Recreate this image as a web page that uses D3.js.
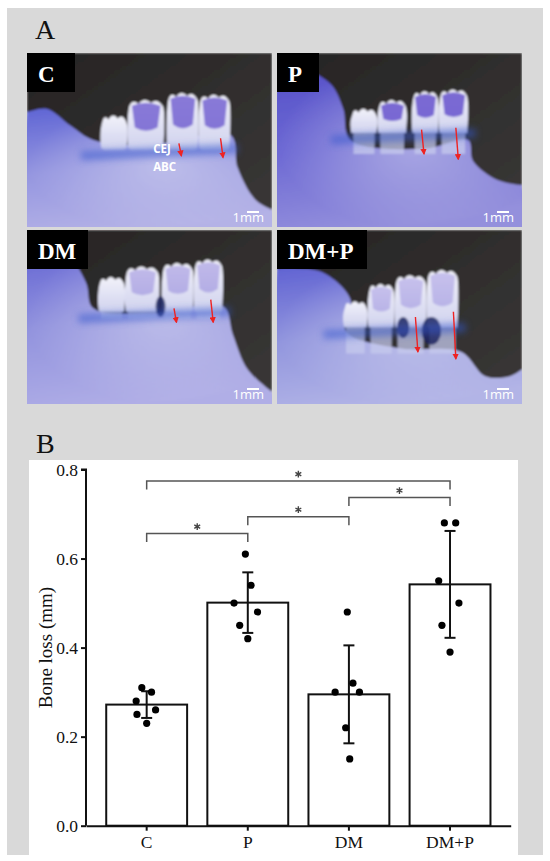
<!DOCTYPE html>
<html>
<head>
<meta charset="utf-8">
<script src="https://cdnjs.cloudflare.com/ajax/libs/d3/7.8.5/d3.min.js"></script>
<style>
  html, body { margin: 0; padding: 0; background: #fff; }
  svg { display: block; }
</style>
</head>
<body>
<div id="figure"></div>
<script>
// ---- panel B data (bone loss, mm) ----
const groups = ['C', 'P', 'DM', 'DM+P'];
const means = [0.272, 0.501, 0.295, 0.542];
const sds = [0.030, 0.068, 0.110, 0.120];
const pointsC = [0.31, 0.30, 0.28, 0.25, 0.26, 0.23];
const pointsP = [0.61, 0.54, 0.50, 0.48, 0.45, 0.42];
const pointsDM = [0.48, 0.32, 0.30, 0.30, 0.22, 0.15];
const pointsDMP = [0.68, 0.68, 0.55, 0.50, 0.45, 0.39];
// horizontal spread of the dots, as a share of the bar width
const jitterC = [-0.06, 0.06, -0.13, -0.12, 0.11, 0];
const jitterP = [-0.03, 0.04, -0.17, 0.12, -0.10, 0];
const jitterDM = [-0.02, 0.05, -0.17, 0.13, -0.04, 0.01];
const jitterDMP = [-0.07, 0.07, -0.14, 0.11, -0.10, 0];
const yTicks = [0.0, 0.2, 0.4, 0.6, 0.8];
const sigPairs = [['C', 'P'], ['P', 'DM'], ['DM', 'DM+P'], ['C', 'DM+P']];
const sigLevels = [0.656, 0.694, 0.737, 0.774];

const W = 550, H = 861;
const serif = '"Liberation Serif", "Times New Roman", serif';
const sans = '"Open Sans", "DejaVu Sans", sans-serif';

const svg = d3.select('#figure').append('svg')
    .attr('width', W)
    .attr('height', H);

const defs = svg.append('defs');

// grey frame around both panels
svg.append('rect')
    .attr('x', 7).attr('y', 8)
    .attr('width', 536).attr('height', 847)
    .attr('fill', '#d9d9d9');

svg.append('text')
    .attr('x', 35).attr('y', 39)
    .attr('font-family', serif).attr('font-size', 28)
    .attr('fill', '#111')
    .text('A');

// ---------- panel A: stylised photographs ----------
const photoW = 245, photoH = 174;
const photos = [
    { label: 'C', x: 27, y: 53, box: 48,
      colors: ['#5e64d4', '#9596e0', '#b4b2e6'], stain: 0.75,
      jaw: [[0, 0.34], [0.08, 0.32], [0.18, 0.42], [0.27, 0.5], [0.5, 0.53], [0.83, 0.47], [0.86, 0.66], [0.93, 0.84], [1, 0.9]],
      teeth: [[0.30, 0.41, 0.37], [0.41, 0.56, 0.28], [0.57, 0.70, 0.24], [0.70, 0.83, 0.25]],
      gum: 0.55, root: 0.55, holes: [],
      arrows: [[0.63, 0.52, 0.59], [0.80, 0.49, 0.6]], notes: true },
    { label: 'P', x: 277, y: 53, box: 42,
      colors: ['#5550c8', '#6e6ad4', '#9490dc'], stain: 0.85,
      jaw: [[0, 0.12], [0.12, 0.1], [0.22, 0.18], [0.27, 0.32], [0.3, 0.5], [0.6, 0.55], [0.78, 0.5], [0.8, 0.62], [0.9, 0.73], [1, 0.76]],
      teeth: [[0.30, 0.41, 0.33], [0.41, 0.53, 0.28], [0.55, 0.66, 0.23], [0.66, 0.78, 0.22]],
      gum: 0.46, root: 0.57, holes: [],
      arrows: [[0.60, 0.44, 0.58], [0.74, 0.43, 0.61]], notes: false },
    { label: 'DM', x: 27, y: 230, box: 61,
      colors: ['#5f60d2', '#9293de', '#b0aee6'], stain: 0.35,
      jaw: [[0, 0.06], [0.14, 0.1], [0.24, 0.3], [0.27, 0.45], [0.5, 0.48], [0.8, 0.44], [0.84, 0.6], [0.9, 0.8], [1, 0.93]],
      teeth: [[0.29, 0.40, 0.28], [0.40, 0.54, 0.22], [0.55, 0.68, 0.2], [0.68, 0.80, 0.18]],
      gum: 0.47, root: 0.5, holes: [[0.525, 0.565, 0.38, 0.5]],
      arrows: [[0.61, 0.45, 0.53], [0.76, 0.4, 0.53]], notes: false },
    { label: 'DM+P', x: 277, y: 230, box: 90,
      colors: ['#6062d2', '#9296de', '#b2b4e6'], stain: 0.3,
      jaw: [[0, 0.22], [0.18, 0.24], [0.3, 0.4], [0.28, 0.58], [0.5, 0.68], [0.75, 0.7], [0.85, 0.84], [0.95, 0.84], [1, 0.8]],
      teeth: [[0.27, 0.37, 0.42], [0.37, 0.48, 0.32], [0.48, 0.61, 0.27], [0.61, 0.74, 0.24]],
      gum: 0.56, root: 0.7, holes: [[0.49, 0.54, 0.5, 0.62], [0.59, 0.67, 0.5, 0.66]],
      arrows: [[0.575, 0.5, 0.7], [0.73, 0.47, 0.74]], notes: false }
];

const u = d3.scaleLinear().domain([0, 1]).range([0, photoW]);
const v = d3.scaleLinear().domain([0, 1]).range([0, photoH]);

const bgGrad = defs.append('linearGradient').attr('id', 'bgGrad')
    .attr('x1', 0).attr('y1', 0).attr('x2', 1).attr('y2', 1);
bgGrad.append('stop').attr('offset', '0%').attr('stop-color', '#262424');
bgGrad.append('stop').attr('offset', '100%').attr('stop-color', '#3a3837');

const glow = defs.append('radialGradient').attr('id', 'glow')
    .attr('cx', 0.55).attr('cy', 0.45).attr('r', 0.5);
glow.append('stop').attr('offset', '0%').attr('stop-color', '#e0e0f2').attr('stop-opacity', 0.5);
glow.append('stop').attr('offset', '100%').attr('stop-color', '#e0e0f2').attr('stop-opacity', 0);

const toothGrad = defs.append('linearGradient').attr('id', 'toothGrad')
    .attr('x1', 0).attr('y1', 0).attr('x2', 0).attr('y2', 1);
toothGrad.append('stop').attr('offset', '0%').attr('stop-color', '#f2f2fa');
toothGrad.append('stop').attr('offset', '100%').attr('stop-color', '#d0d2ee');

defs.append('filter').attr('id', 'soft')
    .append('feGaussianBlur').attr('stdDeviation', 1.3);
defs.append('filter').attr('id', 'softer')
    .attr('filterUnits', 'userSpaceOnUse')
    .attr('x', -20).attr('y', -20).attr('width', photoW + 40).attr('height', photoH + 40)
    .append('feGaussianBlur').attr('stdDeviation', 3.5);

defs.append('marker')
    .attr('id', 'redHead')
    .attr('viewBox', '0 0 10 10')
    .attr('refX', 8).attr('refY', 5)
    .attr('markerWidth', 4.5).attr('markerHeight', 4.5)
    .attr('orient', 'auto')
    .append('polygon')
    .attr('points', '0,0 10,5 0,10')
    .attr('fill', '#ee2222');

const jawLine = d3.line()
    .x(d => u(d[0]))
    .y(d => v(d[1]))
    .curve(d3.curveCatmullRom);

photos.forEach((p, i) => {
    defs.append('clipPath').attr('id', 'clip' + i)
        .append('rect').attr('width', photoW).attr('height', photoH);

    const jg = defs.append('linearGradient').attr('id', 'jaw' + i)
        .attr('x1', 0).attr('y1', 0).attr('x2', 0.25).attr('y2', 1);
    jg.append('stop').attr('offset', '0%').attr('stop-color', p.colors[0]);
    jg.append('stop').attr('offset', '50%').attr('stop-color', p.colors[1]);
    jg.append('stop').attr('offset', '100%').attr('stop-color', p.colors[2]);

    const g = svg.append('g')
        .attr('transform', `translate(${p.x},${p.y})`);
    const body = g.append('g').attr('clip-path', `url(#clip${i})`);
    const soft = body.append('g').attr('filter', 'url(#soft)');

    soft.append('rect')
        .attr('width', photoW).attr('height', photoH)
        .attr('fill', 'url(#bgGrad)');

    // jaw bone
    const jawPath = jawLine(p.jaw) + `L${u(1.05)},${v(1.05)}L${u(-0.05)},${v(1.05)}Z`;
    soft.append('path')
        .attr('d', jawPath)
        .attr('fill', `url(#jaw${i})`);
    soft.append('path')
        .attr('d', jawPath)
        .attr('fill', 'url(#glow)');

    // exposed roots below the gum line
    p.teeth.forEach(t => {
        soft.append('rect')
            .attr('x', u(t[0] + 0.012)).attr('y', v(p.gum - 0.04))
            .attr('width', u(t[1] - t[0] - 0.024))
            .attr('height', v(p.root - p.gum + 0.05))
            .attr('fill', '#c6caec').attr('opacity', 0.75);
    });

    // blue stain along the gum line (blurred)
    body.append('path')
        .attr('d', `M${u(p.teeth[0][0] - 0.08)},${v(p.gum + 0.04)} L${u(p.teeth[3][1] + 0.03)},${v(p.gum)}`)
        .attr('stroke', '#3556cc').attr('stroke-width', 9)
        .attr('opacity', 0.55).attr('fill', 'none')
        .attr('filter', 'url(#softer)');

    // crowns
    p.teeth.forEach((t, k) => {
        const x0 = u(t[0]), x1 = u(t[1]), top = v(t[2]), bot = v(p.gum);
        const cw = x1 - x0;
        const crown = `M${x0 + 1},${bot} C${x0 - 1},${bot - 10} ${x0},${top + 10} ${x0 + 2},${top + 4}
            Q${x0 + cw * 0.14},${top - 3} ${x0 + cw * 0.3},${top + 2}
            Q${x0 + cw * 0.46},${top - 5} ${x0 + cw * 0.64},${top + 1}
            Q${x0 + cw * 0.82},${top - 4} ${x1 - 1},${top + 5}
            C${x1 + 1},${top + 12} ${x1},${bot - 10} ${x1 - 1},${bot} Z`;
        soft.append('path')
            .attr('d', crown)
            .attr('fill', 'url(#toothGrad)');
        if (k > 0) {
            // stained occlusal surface
            const sh = (bot - top) * 0.55;
            soft.append('path')
                .attr('d', `M${x0 + cw * 0.12},${top + 4} Q${x0 + cw * 0.5},${top - 2} ${x1 - cw * 0.1},${top + 4}
                    L${x1 - cw * 0.18},${top + sh} Q${x0 + cw * 0.5},${top + sh * 1.25} ${x0 + cw * 0.2},${top + sh} Z`)
                .attr('fill', '#6652cc').attr('opacity', p.stain);
        }
    });

    p.holes.forEach(hh => {
        soft.append('ellipse')
            .attr('cx', u((hh[0] + hh[1]) / 2)).attr('cy', v((hh[2] + hh[3]) / 2))
            .attr('rx', u((hh[1] - hh[0]) / 2)).attr('ry', v((hh[3] - hh[2]) / 2))
            .attr('fill', '#1d2660').attr('opacity', 0.85);
    });

    // red arrows from CEJ to ABC
    p.arrows.forEach(a => {
        body.append('line')
            .attr('x1', u(a[0] - 0.01)).attr('y1', v(a[1]))
            .attr('x2', u(a[0])).attr('y2', v(a[2]))
            .attr('stroke', '#ee2222').attr('stroke-width', 1.4)
            .attr('marker-end', 'url(#redHead)');
    });

    if (p.notes) {
        body.append('text')
            .attr('x', u(0.515)).attr('y', v(0.575))
            .attr('font-family', sans)
            .attr('font-weight', 'bold').attr('font-size', 11.5)
            .attr('fill', '#fff').text('CEJ');
        body.append('text')
            .attr('x', u(0.515)).attr('y', v(0.68))
            .attr('font-family', sans)
            .attr('font-weight', 'bold').attr('font-size', 11.5)
            .attr('fill', '#fff').text('ABC');
    }

    // scale bar
    body.append('text')
        .attr('x', photoW - 8).attr('y', photoH - 5)
        .attr('text-anchor', 'end')
        .attr('font-family', sans).attr('font-size', 13)
        .attr('fill', '#fff').text('1mm');
    body.append('line')
        .attr('x1', photoW - 25).attr('x2', photoW - 13)
        .attr('y1', photoH - 15).attr('y2', photoH - 15)
        .attr('stroke', '#fff').attr('stroke-width', 2);

    // group label
    body.append('rect')
        .attr('width', p.box).attr('height', 39)
        .attr('fill', '#000');
    body.append('text')
        .attr('x', 11).attr('y', 29)
        .attr('font-family', serif).attr('font-weight', 'bold')
        .attr('font-size', 23).attr('fill', '#fff')
        .text(p.label);
});

// ---------- panel B: bar chart ----------
svg.append('text')
    .attr('x', 36).attr('y', 453)
    .attr('font-family', serif).attr('font-size', 28)
    .attr('fill', '#111')
    .text('B');

svg.append('rect')
    .attr('x', 29).attr('y', 460)
    .attr('width', 489).attr('height', 395)
    .attr('fill', '#fff');

const x = d3.scaleBand()
    .domain(groups)
    .range([86, 510.7])
    .paddingInner(0.2)
    .paddingOuter(0.2);

const y = d3.scaleLinear()
    .domain([0, 0.8])
    .range([825.7, 469.5]);

const allPoints = [pointsC, pointsP, pointsDM, pointsDMP];
const allJitter = [jitterC, jitterP, jitterDM, jitterDMP];

const chart = svg.append('g');

chart.selectAll('rect.bar')
    .data(groups)
    .enter()
    .append('rect')
    .attr('class', 'bar')
    .attr('x', d => x(d))
    .attr('y', (d, i) => y(means[i]))
    .attr('width', x.bandwidth())
    .attr('height', (d, i) => y(0) - y(means[i]))
    .attr('fill', '#fff')
    .attr('stroke', '#111')
    .attr('stroke-width', 2);

// error bars (mean +/- SD)
const capHalf = 5.5;
groups.forEach((gname, i) => {
    const cx = x(gname) + x.bandwidth() / 2;
    const lo = y(means[i] - sds[i]), hi = y(means[i] + sds[i]);
    chart.append('line')
        .attr('x1', cx).attr('x2', cx).attr('y1', lo).attr('y2', hi)
        .attr('stroke', '#111').attr('stroke-width', 2);
    [lo, hi].forEach(yy => {
        chart.append('line')
            .attr('x1', cx - capHalf).attr('x2', cx + capHalf)
            .attr('y1', yy).attr('y2', yy)
            .attr('stroke', '#111').attr('stroke-width', 2);
    });
});

// individual animals
groups.forEach((gname, i) => {
    const cx = x(gname) + x.bandwidth() / 2;
    chart.selectAll(null)
        .data(allPoints[i])
        .enter()
        .append('circle')
        .attr('cx', (d, k) => cx + allJitter[i][k] * x.bandwidth())
        .attr('cy', d => y(d))
        .attr('r', 3.6)
        .attr('fill', '#000');
});

// axes
const yAxis = chart.append('g')
    .attr('transform', 'translate(86,0)')
    .call(d3.axisLeft(y).tickValues(yTicks).tickFormat(d3.format('.1f')).tickSize(5).tickPadding(3));
const xAxis = chart.append('g')
    .attr('transform', `translate(0,${y(0)})`)
    .call(d3.axisBottom(x).tickSize(5).tickPadding(5).tickSizeOuter(0));

[yAxis, xAxis].forEach(ax => {
    ax.select('.domain').attr('stroke', '#111').attr('stroke-width', 2);
    ax.selectAll('.tick line').attr('stroke', '#111').attr('stroke-width', 2);
    ax.selectAll('text')
        .attr('font-family', serif)
        .attr('font-size', 17.5)
        .attr('fill', '#111');
});
yAxis.select('.domain').attr('d', `M-5,${y(0.8)}H0V${y(0)}`);

chart.append('text')
    .attr('transform', `translate(52,${(y(0) + y(0.8)) / 2}) rotate(-90)`)
    .attr('text-anchor', 'middle')
    .attr('font-family', serif)
    .attr('font-size', 19)
    .attr('fill', '#111')
    .text('Bone loss (mm)');

// significance brackets with a drawn asterisk
const drop = 0.019;
const starArm = 3.4;
sigPairs.forEach((pair, i) => {
    const xa = x(pair[0]) + x.bandwidth() / 2;
    const xb = x(pair[1]) + x.bandwidth() / 2;
    const yl = y(sigLevels[i]);
    const yd = y(sigLevels[i] - drop);
    chart.append('path')
        .attr('d', `M${xa},${yd}V${yl}H${xb}V${yd}`)
        .attr('fill', 'none')
        .attr('stroke', '#555')
        .attr('stroke-width', 1.5);
    const sx = (xa + xb) / 2, sy = yl - 7;
    const star = d3.range(3).map(k => {
        const ang = Math.PI / 2 + k * Math.PI / 3;
        const dx = starArm * Math.cos(ang), dy = starArm * Math.sin(ang);
        return `M${sx - dx},${sy - dy}L${sx + dx},${sy + dy}`;
    }).join('');
    chart.append('path')
        .attr('d', star)
        .attr('stroke', '#444')
        .attr('stroke-width', 1.4)
        .attr('fill', 'none');
});
</script>
</body>
</html>
